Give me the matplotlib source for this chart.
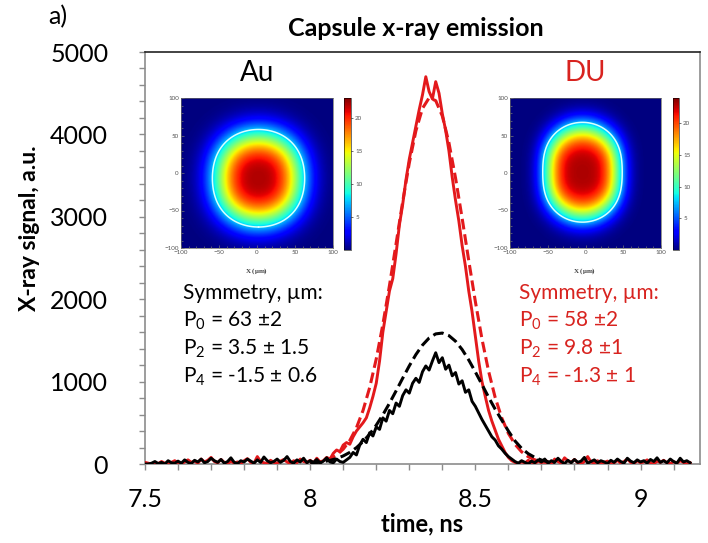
import numpy as np
import matplotlib
matplotlib.use('Agg')
import matplotlib.pyplot as plt
from matplotlib.ticker import MultipleLocator

plt.rcParams['font.family'] = ['Lato', 'DejaVu Sans']
plt.rcParams['mathtext.fontset'] = 'custom'
plt.rcParams['mathtext.rm'] = 'Lato'
plt.rcParams['mathtext.default'] = 'regular'

W, H = 708, 543
RED = '#e3191c'
RED_TXT = '#d8231f'
GREY = '#8c8c8c'

# measured traces, 10 ps sampling from 7.50 to 9.15 ns
t_data = np.round(np.arange(7.50, 9.155, 0.01), 2)

du_signal = [
    20, 10, 0, 15, 5, 30, 10, 0, 20, 40,
    15, 5, 25, 50, 20, 35, 10, 60, 25, 45,
    80, 30, 15, 55, 20, 0, 35, 10, 25, 5,
    40, 65, 20, 10, 90, 30, 15, 5, 45, 20,
    10, 35, 55, 25, 5, 40, 15, 60, 30, 20,
    45, 10, 70, 25,
    40, 80, 60, 130, 170, 150, 230, 260, 240, 330,
    400, 450, 500, 560, 680, 820, 980, 1250, 1600, 1850,
    2100, 2250, 2550, 2900, 3150, 3450, 3700, 3900, 4100, 4300,
    4480, 4700, 4520, 4430, 4640, 4500, 4250, 4050, 3800, 3480,
    3200, 2950, 2650, 2400, 2100, 1850, 1550, 1250, 1000, 820,
    650, 520, 410, 300, 220, 140, 80, 40,
    20, 0, 30, 10, 45, 20, 5, 35,
    15, 50, 25, 0, 60, 30, 10, 75, 40, 20,
    55, 15, 0, 30, 90, 25, 10, 40, 5, 20,
    35, 0, 15, 45, 10, 30, 60, 20, 5, 40,
    15, 25, 50, 10, 0, 35, 20, 45, 15, 5,
    30, 10, 40, 20, 0, 15,
]

au_signal = [
    0, 0, 10, 30, 5, 20, 0, 40, 15, 10,
    35, 10, 50, 20, 5, 45, 25, 60, 15, 30,
    70, 40, 20, 55, 10, 30, 75, 20, 5, 40,
    25, 60, 35, 10, 50, 20, 85, 40, 15, 30,
    60, 20, 45, 90, 30, 10, 50, 25, 70, 15,
    40, 20, 55, 10, 35, 75, 25, 15, 60, 30,
    20, 50,
    80, 140, 110, 230, 300, 260, 380, 340, 450, 420,
    560, 520, 650, 610, 740, 700, 830, 900, 860, 980,
    1040, 990, 1120, 1190, 1140, 1250, 1350, 1230, 1290, 1150,
    1200, 1070, 1110, 970, 1010, 870, 900, 760, 700, 620,
    540, 470, 400, 330, 290, 220, 180, 130, 90, 60, 30,
    10, 40, 20, 0, 35, 15, 50,
    25, 60, 10, 40, 20, 70, 30, 5, 45, 15,
    55, 20, 35, 80, 10, 30, 50, 15, 40, 25,
    5, 45, 20, 60, 30, 10, 70, 35, 15, 50,
    25, 40, 10, 55, 30, 75, 20, 40, 15, 60,
    30, 10, 70, 25, 40, 15,
]

# simulated curves, 20 ps sampling from 8.00 to 8.74 ns
t_fit = np.round(np.arange(8.00, 8.745, 0.02), 2)

du_fit = [
    10, 20, 36, 64, 109, 180, 286, 439, 650, 927,
    1275, 1694, 2166, 2673, 3182, 3652, 4043, 4316, 4443, 4410,
    4223, 3899, 3471, 2982, 2468, 1971, 1517, 1127, 807, 558,
    371, 239, 148, 88, 51, 28, 15, 8,
]

au_fit = [
    11, 18, 28, 44, 66, 98, 141, 198, 272, 362,
    471, 597, 737, 887, 1041, 1191, 1328, 1443, 1529, 1579,
    1589, 1558, 1490, 1389, 1262, 1117, 964, 811, 665, 532,
    400, 280, 190, 125, 80, 48, 26, 12,
]

# hot-spot shape: Legendre modes of the self-emission contour (um)
au_modes = (63, 3.5, -1.5)
du_modes = (58, 9.8, -1.3)
au_peak, du_peak = 22, 23


def rect(x0, y0, x1, y1):
    return [x0 / W, 1 - y1 / H, (x1 - x0) / W, (y1 - y0) / H]


def fx(x):
    return x / W


def fy(y):
    return 1 - y / H


def hotspot(modes, peak, cx, cy, k, level=7.5):
    p0, p2, p4 = modes
    g = np.linspace(-100, 100, 201)
    X, Y = np.meshgrid(g, g)
    dx, dy = X - cx, Y - cy
    r = np.hypot(dx, dy)
    mu = np.divide(dy, r, out=np.zeros_like(r), where=r > 0)
    R = p0 + p2 * (3 * mu**2 - 1) / 2 + p4 * (35 * mu**4 - 30 * mu**2 + 3) / 8
    rho = r / R
    c = np.log(peak / level)
    return g, peak * np.exp(-c * rho**k)


def draw_inset(img_rect, cb_rect, modes, peak, cx, cy, k, xlab_pos):
    g, Z = hotspot(modes, peak, cx, cy, k)
    iax = fig.add_axes(rect(*img_rect))
    im = iax.imshow(Z, extent=(-100, 100, -100, 100), origin='lower',
                    cmap='jet', vmin=0, vmax=peak + 1, interpolation='bilinear',
                    aspect='auto')
    iax.contour(g, g, Z, levels=[7.5], colors='#d8ffff', linewidths=1.1)
    iax.set_xlim(-100, 100)
    iax.set_ylim(-100, 100)
    iax.set_xticks([-100, -50, 0, 50, 100])
    iax.set_yticks([-100, -50, 0, 50, 100])
    iax.xaxis.set_minor_locator(MultipleLocator(10))
    iax.yaxis.set_minor_locator(MultipleLocator(10))
    iax.tick_params(which='both', direction='in', labelsize=4.5,
                    labelcolor='#555555', color='#777777', width=0.5, pad=1.5)
    iax.tick_params(which='major', length=2.5)
    iax.tick_params(which='minor', length=1.2)
    for s in iax.spines.values():
        s.set_linewidth(0.5)
        s.set_color('#666666')
    cax = fig.add_axes(rect(*cb_rect))
    cb = fig.colorbar(im, cax=cax, ticks=[5, 10, 15, 20])
    cb.outline.set_linewidth(0.4)
    cb.ax.tick_params(labelsize=4.5, labelcolor='#555555', length=1.5,
                      width=0.4, pad=1.5)
    fig.text(fx(xlab_pos[0]), fy(xlab_pos[1]), r'X ($\mu$m)', ha='center',
             va='center', fontsize=5, family='Liberation Serif',
             fontweight='bold', color='#444444')


fig = plt.figure(figsize=(W / 100, H / 100), dpi=100)
ax = fig.add_axes(rect(145, 52, 700, 464))

ax.plot(t_data, du_signal, color=RED, lw=2.1, zorder=3)
ax.plot(t_fit, du_fit, color=RED, lw=2.2, ls=(0, (3.5, 1.6)), zorder=3)
ax.plot(t_data, au_signal, color='black', lw=2.1, zorder=4)
ax.plot(t_fit, au_fit, color='black', lw=2.2, ls=(0, (3.5, 1.6)), zorder=4)

ax.set_xlim(7.5, 9.18)
ax.set_ylim(0, 5000)
ax.set_xticks([7.5, 8, 8.5, 9])
ax.set_xticklabels(['7.5', '8', '8.5', '9'])
ax.xaxis.set_minor_locator(MultipleLocator(0.1))
ax.yaxis.set_major_locator(MultipleLocator(1000))
ax.yaxis.set_minor_locator(MultipleLocator(200))
ax.tick_params(which='both', direction='out', color=GREY, width=1, length=4.5)
ax.tick_params(axis='y', labelsize=18, pad=22)
ax.tick_params(axis='x', labelsize=18, pad=13)
for side in ['left', 'bottom', 'right']:
    ax.spines[side].set_color(GREY)
    ax.spines[side].set_linewidth(1.2)
ax.spines['top'].set_color('#222222')
ax.spines['top'].set_linewidth(1.2)

fig.text(fx(30), fy(228), 'X-ray signal, a.u.', rotation=90, ha='center',
         va='center', fontsize=16.5, fontweight='bold')
fig.text(fx(422), fy(524), 'time, ns', ha='center', va='center',
         fontsize=17, fontweight='bold')
fig.text(fx(416), fy(28), 'Capsule x-ray emission', ha='center', va='center',
         fontsize=18, fontweight='bold')
fig.text(fx(48), fy(17), 'a)', ha='left', va='center', fontsize=18)

# framing camera images
draw_inset((181, 98, 333, 248), (344, 98, 351, 250), au_modes, au_peak,
           2, -7, 3.0, (257, 271))
draw_inset((510, 98, 661, 248), (673, 98, 679, 250), du_modes, du_peak,
           -4, 1, 3.6, (585, 271))

fig.text(fx(257), fy(73), 'Au', ha='center', va='center', fontsize=20)
fig.text(fx(585), fy(73), 'DU', ha='center', va='center', fontsize=20,
         color=RED_TXT)

au_lines = ['Symmetry, \u00b5m:', 'P$_0$ = 63 \u00b12', 'P$_2$ = 3.5 \u00b1 1.5',
            'P$_4$ = -1.5 \u00b1 0.6']
du_lines = ['Symmetry, \u00b5m:', 'P$_0$ = 58 \u00b12', 'P$_2$ = 9.8 \u00b11',
            'P$_4$ = -1.3 \u00b1 1']
for y, a, d in zip([293, 321, 349, 377], au_lines, du_lines):
    fig.text(fx(183), fy(y), a, ha='left', va='center', fontsize=15)
    fig.text(fx(519), fy(y), d, ha='left', va='center', fontsize=15,
             color=RED_TXT)

fig.savefig('out.png', dpi=100)
